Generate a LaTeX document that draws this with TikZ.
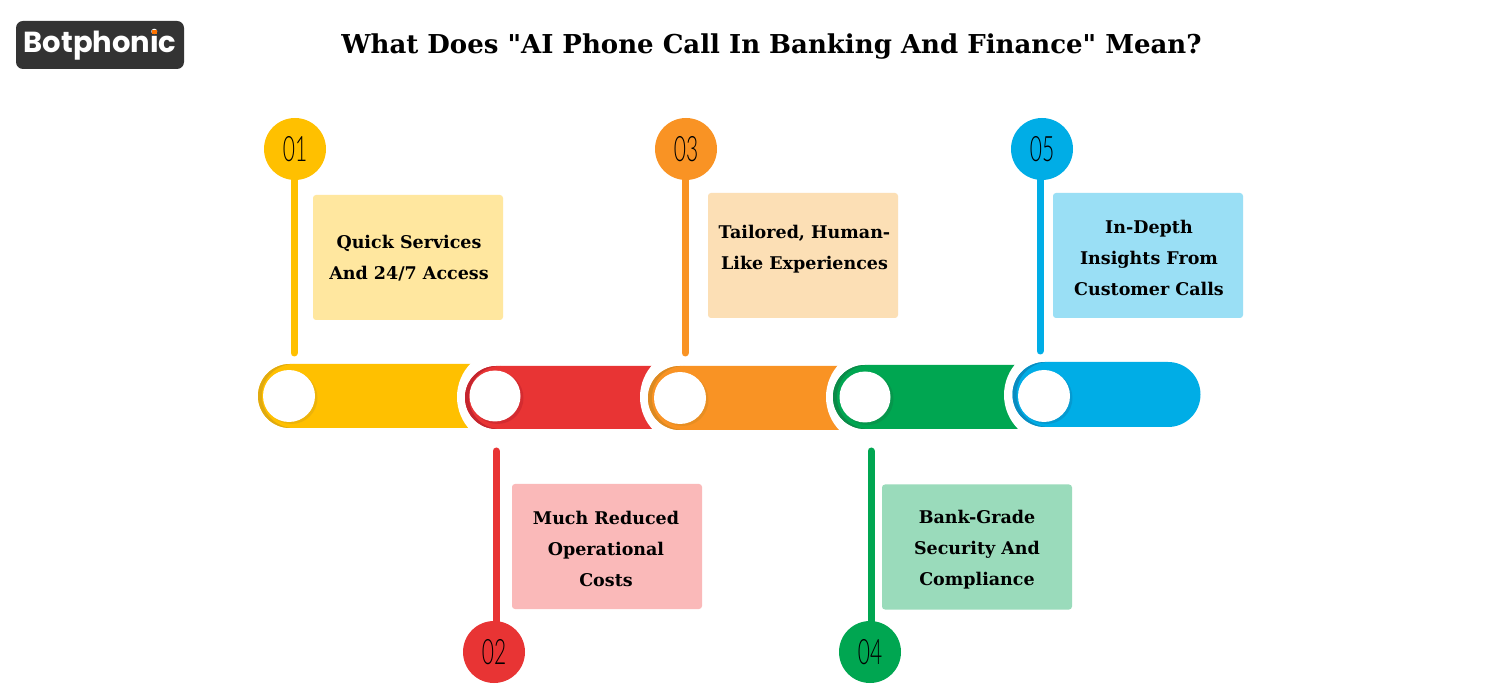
\documentclass[tikz,border=0pt]{standalone}
\usepackage{fontspec}
\usetikzlibrary{calc}
\newfontfamily\slab{DejaVu Serif}
\newfontfamily\logofont{Poppins}
\newfontfamily\numfont[FakeStretch=0.6]{Lato Light}
\definecolor{cyel}{HTML}{FFC000}\definecolor{dyel}{HTML}{E0AA10}\definecolor{lyel}{HTML}{FFE79F}
\definecolor{cred}{HTML}{E83434}\definecolor{dred}{HTML}{C4252E}\definecolor{lred}{HTML}{FAB9B9}
\definecolor{cora}{HTML}{F99324}\definecolor{dora}{HTML}{DB8A22}\definecolor{lora}{HTML}{FCDFB5}
\definecolor{cgre}{HTML}{00A651}\definecolor{dgre}{HTML}{0B8A48}\definecolor{lgre}{HTML}{9ADBBB}
\definecolor{cblu}{HTML}{00ADE6}\definecolor{dblu}{HTML}{0A8CC0}\definecolor{lblu}{HTML}{9ADFF5}
\tikzset{
 x=1pt,y=-1pt,
 infobox/.style={rounded corners=3pt,minimum width=190pt,minimum height=125pt,inner sep=0pt},
 infotext/.style={inner sep=0pt,align=center,font=\slab\fontsize{17.5}{31}\selectfont\bfseries,text=black},
 badge/.style={circle,minimum size=62pt,inner sep=0pt,font=\numfont\fontsize{35}{35}\selectfont,text=black},
 stem/.style={line width=7pt,line cap=round},
 knob/.style={circle,fill=white,inner sep=0pt},
}
\newcommand{\barseg}[6]{% left x, top y, bottom y, right x, main colour, dark colour
 \pgfmathsetmacro{\rr}{(#3-#2)/2}
 \fill[#5] (#1+\rr,#2) -- (#4,#2) -- (#4,#3) -- (#1+\rr,#3) arc[start angle=270,end angle=90,radius=\rr pt] -- cycle;
 \fill[#6] (#1+\rr,#2+\rr) circle[radius=\rr pt];
 \fill[#5] (#1+\rr+4,#2+\rr) circle[radius=\rr pt];
}
\begin{document}
\begin{tikzpicture}
\fill[white] (0,0) rectangle (1500,700);
\useasboundingbox (0,0) rectangle (1500,700);
% logo
\node[fill=black!80,rounded corners=7pt,minimum width=168pt,minimum height=48pt,inner sep=0pt,text=white,
  font=\logofont\fontsize{29}{29}\selectfont\bfseries] (logo) at (100,45) {Botphonic};
\fill[orange!90!red] (152.3,30) rectangle (156.7,34.5);
% title
\node[font=\slab\fontsize{26}{30}\selectfont\bfseries,text=black] (title) at (771.5,47) {What Does "AI Phone Call In Banking And Finance" Mean?};
% bar, drawn from left to right so that each white ring cuts the previous colour
\barseg{258}{364}{428}{495}{cyel}{dyel}
\fill[white] (505,397) circle[radius=48pt];
\barseg{465}{366}{429}{681}{cred}{dred}
\fill[white] (688,397) circle[radius=48pt];
\barseg{648}{366}{430}{867}{cora}{dora}
\fill[white] (874,397) circle[radius=48pt];
\barseg{833}{365}{429}{1045}{cgre}{dgre}
\fill[white] (1052,395) circle[radius=48pt];
\fill[cblu] (1045,362) -- (1168,362) arc[start angle=90,end angle=-90,radius=32.5pt] -- (1045,427) arc[start angle=270,end angle=90,radius=32.5pt] -- cycle;
\fill[dblu] (1045,394.5) circle[radius=32.5pt];
\fill[cblu] (1049,394.5) circle[radius=32.5pt];
% knob shadows
\foreach \kx/\ky/\kc in {289/396/dyel,495/396/dred,680/398/dora,865/397/dgre,1044/396/dblu}
  \fill[\kc,opacity=.55] (\kx+2.5,\ky+2) circle[radius=26pt];
% knobs
\node[knob,minimum size=52pt] (k1) at (289,396) {};
\node[knob,minimum size=51pt] (k2) at (495,396) {};
\node[knob,minimum size=52pt] (k3) at (680,398) {};
\node[knob,minimum size=51pt] (k4) at (865,397) {};
\node[knob,minimum size=52pt] (k5) at (1044,396) {};
% badges
\node[badge,fill=cyel] (b1) at (295,149) {01};
\node[badge,fill=cred] (b2) at (494,652) {02};
\node[badge,fill=cora] (b3) at (686,149) {03};
\node[badge,fill=cgre] (b4) at (870,652) {04};
\node[badge,fill=cblu] (b5) at (1042,149) {05};
% stem ends
\coordinate (e1) at (294,353);
\coordinate (e2) at (496,451);
\coordinate (e3) at (685,353);
\coordinate (e4) at (871,451);
\coordinate (e5) at (1040,351);
\draw[stem,cyel] ($(b1.south)+(-1,-2)$) -- (e1);
\draw[stem,cred] (e2) -- ($(e2 |- b2.north)+(0,2)$);
\draw[stem,cora] ($(b3.south)+(-1,-2)$) -- (e3);
\draw[stem,cgre] (e4) -- ($(e4 |- b4.north)+(0,2)$);
\draw[stem,cblu] ($(b5.south)+(-2,-2)$) -- (e5);
% boxes
\node[infobox,fill=lyel] (t1) at (408,257.5) {};
\node[infobox,fill=lred] (t2) at (607,546.5) {};
\node[infobox,fill=lora] (t3) at (803,255.5) {};
\node[infobox,fill=lgre] (t4) at (977,547) {};
\node[infobox,fill=lblu] (t5) at (1148,255.5) {};
\node[infotext] (x1) at (409,258) {Quick Services\\And 24/7 Access};
\node[infotext] (x2) at (606,549) {Much Reduced\\Operational\\Costs};
\node[infotext] (x3) at (804.5,249.5) {Tailored, Human-\\Like Experiences};
\node[infotext] (x4) at (977,549.5) {Bank-Grade\\Security And\\Compliance};
\node[infotext] (x5) at (1149,258) {In-Depth\\Insights From\\Customer Calls};
\end{tikzpicture}
\end{document}
